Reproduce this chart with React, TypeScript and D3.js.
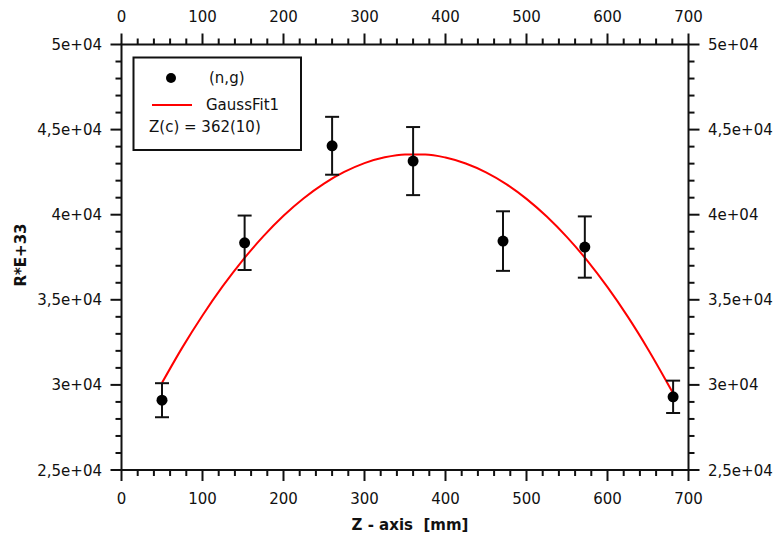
import * as d3 from "d3";

// measured points (n,g)
const zPos = [50, 152, 260, 360, 471, 572, 681];
const rVal = [29100, 38350, 44050, 43150, 38450, 38100, 29300];
const rErr = [1000, 1600, 1700, 2000, 1750, 1800, 950];

// GaussFit1 curve
const fitZ = [50, 75, 100, 125, 150, 175, 200, 225, 250, 275, 300, 325, 350, 375, 400, 425, 450, 475, 500, 525, 550, 575, 600, 625, 650, 681];
const fitR = [30120, 32190, 34080, 35800, 37350, 38730, 39940, 40970, 41830, 42510, 43030, 43370, 43540, 43540, 43360, 43010, 42490, 41800, 40930, 39890, 38680, 37300, 35740, 34010, 32100, 29510];

const xTicks = [0, 100, 200, 300, 400, 500, 600, 700];
const yTicks = [25000, 30000, 35000, 40000, 45000, 50000];
const yLabels = ["2,5e+04", "3e+04", "3,5e+04", "4e+04", "4,5e+04", "5e+04"];

const W = 778;
const H = 536;
const left = 121.5;
const right = 688.5;
const top = 44.5;
const bottom = 470;
const font = "'DejaVu Sans', Verdana, sans-serif";
const ink = "#111";
const fs = 15;

export default function App() {
  const x = d3.scaleLinear().domain([0, 700]).range([left, right]);
  const y = d3.scaleLinear().domain([25000, 50000]).range([bottom, top]);

  const xMinor = d3.range(0, 701, 20).filter((v) => v % 100 !== 0);
  const yMinor = d3.range(25000, 50001, 1000).filter((v) => v % 5000 !== 0);

  const fitLine = d3
    .line<number>()
    .x((d, i) => x(fitZ[i]))
    .y((d) => y(d))
    .curve(d3.curveMonotoneX);

  const major = 11;
  const minor = 6;

  return (
    <svg width={W} height={H} style={{ position: "absolute", left: 0, top: 0, background: "#fff" }}>
      {/* frame */}
      <rect x={left} y={top} width={right - left} height={bottom - top} fill="none" stroke={ink} strokeWidth={2} />

      {/* x ticks, top and bottom */}
      {xTicks.map((v) => (
        <g key={"xt" + v}>
          <line x1={x(v)} x2={x(v)} y1={top} y2={top - major} stroke={ink} strokeWidth={2} />
          <line x1={x(v)} x2={x(v)} y1={bottom} y2={bottom + major} stroke={ink} strokeWidth={2} />
          <text x={x(v)} y={22} textAnchor="middle" fontFamily={font} fontSize={fs} fill={ink}>{v}</text>
          <text x={x(v)} y={504} textAnchor="middle" fontFamily={font} fontSize={fs} fill={ink}>{v}</text>
        </g>
      ))}
      {xMinor.map((v) => (
        <g key={"xm" + v}>
          <line x1={x(v)} x2={x(v)} y1={top} y2={top - minor} stroke={ink} strokeWidth={2} />
          <line x1={x(v)} x2={x(v)} y1={bottom} y2={bottom + minor} stroke={ink} strokeWidth={2} />
        </g>
      ))}

      {/* y ticks, left and right */}
      {yTicks.map((v, i) => (
        <g key={"yt" + v}>
          <line x1={left} x2={left - major} y1={y(v)} y2={y(v)} stroke={ink} strokeWidth={2} />
          <line x1={right} x2={right + major} y1={y(v)} y2={y(v)} stroke={ink} strokeWidth={2} />
          <text x={102} y={y(v) + 5.5} textAnchor="end" fontFamily={font} fontSize={fs} fill={ink}>{yLabels[i]}</text>
          <text x={708} y={y(v) + 5.5} textAnchor="start" fontFamily={font} fontSize={fs} fill={ink}>{yLabels[i]}</text>
        </g>
      ))}
      {yMinor.map((v) => (
        <g key={"ym" + v}>
          <line x1={left} x2={left - minor} y1={y(v)} y2={y(v)} stroke={ink} strokeWidth={2} />
          <line x1={right} x2={right + minor} y1={y(v)} y2={y(v)} stroke={ink} strokeWidth={2} />
        </g>
      ))}

      {/* axis titles */}
      <text x={410} y={530} textAnchor="middle" fontFamily={font} fontSize={fs} fontWeight="bold" fill={ink} xmlSpace="preserve">
        {"Z - axis  [mm]"}
      </text>
      <text
        transform={`translate(26,255) rotate(-90)`}
        textAnchor="middle"
        fontFamily={font}
        fontSize={fs}
        fontWeight="bold"
        fill={ink}
      >
        R*E+33
      </text>

      {/* fit */}
      <path d={fitLine(fitR) ?? ""} fill="none" stroke="#f00" strokeWidth={2} />

      {/* data with error bars */}
      {zPos.map((z, i) => {
        const cx = x(z);
        const y1 = y(rVal[i] + rErr[i]);
        const y0 = y(rVal[i] - rErr[i]);
        return (
          <g key={"p" + i}>
            <line x1={cx} x2={cx} y1={y1} y2={y0} stroke={ink} strokeWidth={2} />
            <line x1={cx - 7} x2={cx + 7} y1={y1} y2={y1} stroke={ink} strokeWidth={2} />
            <line x1={cx - 7} x2={cx + 7} y1={y0} y2={y0} stroke={ink} strokeWidth={2} />
            <circle cx={cx} cy={y(rVal[i])} r={5.5} fill="#000" />
          </g>
        );
      })}

      {/* legend */}
      <rect x={133.5} y={57.5} width={167.5} height={92.5} fill="#fff" stroke={ink} strokeWidth={2} />
      <circle cx={171} cy={78} r={5} fill="#000" />
      <text x={209} y={83} fontFamily={font} fontSize={fs} fill={ink}>(n,g)</text>
      <line x1={152} x2={192} y1={105} y2={105} stroke="#f00" strokeWidth={2} />
      <text x={206} y={110} fontFamily={font} fontSize={fs} fill={ink}>GaussFit1</text>
      <text x={149} y={132} fontFamily={font} fontSize={fs} fill={ink} xmlSpace="preserve">Z(c) = 362(10)</text>
    </svg>
  );
}
